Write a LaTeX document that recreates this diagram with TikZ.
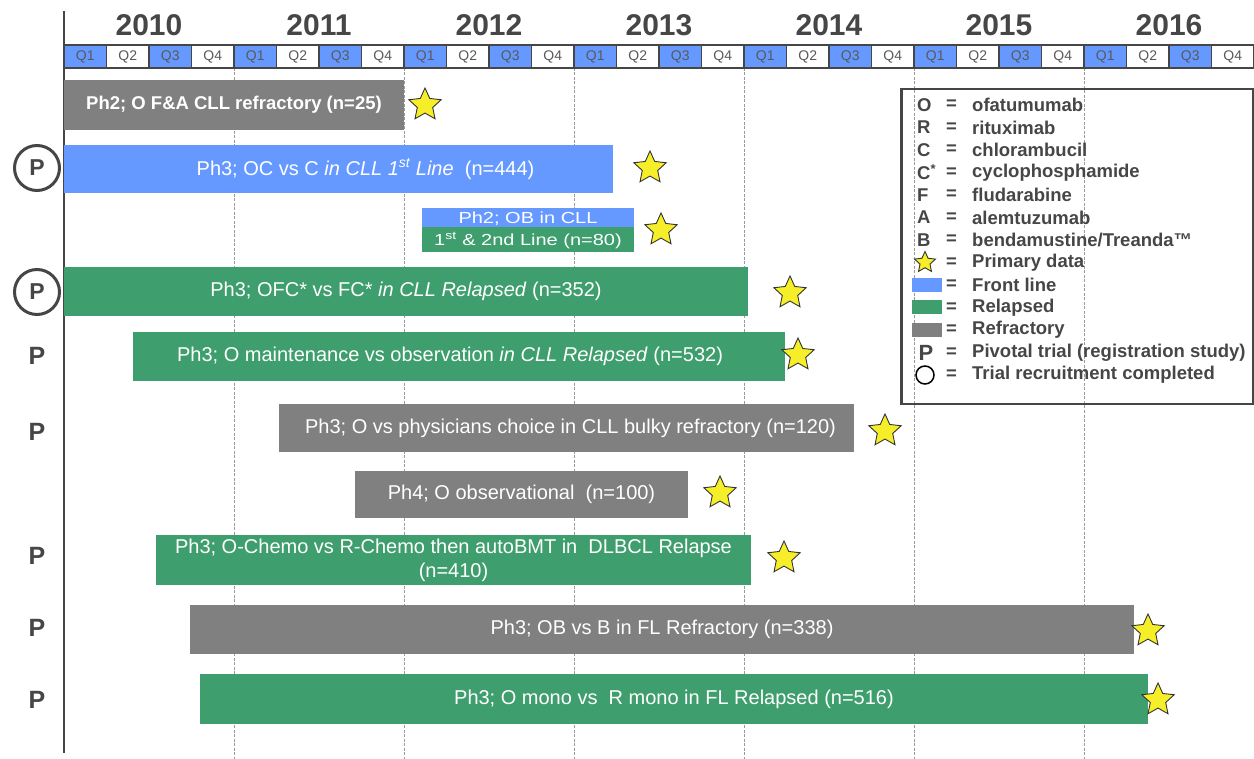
\documentclass[tikz,border=0pt]{standalone}
\usepackage{fontspec}
\usepackage{graphicx}
\setmainfont{Liberation Sans}
\usetikzlibrary{shapes.geometric}
\definecolor{qblue}{RGB}{102,153,255}
\definecolor{rgreen}{RGB}{62,158,110}
\definecolor{rgray}{RGB}{128,128,128}
\definecolor{dark}{RGB}{70,70,70}
\definecolor{ystar}{RGB}{246,238,40}
\begin{document}
\begin{tikzpicture}[x=1pt,y=-1pt,
  gridline/.style={draw=black!40, line width=0.9pt, dash pattern=on 3pt off 1.5pt},
  axisline/.style={draw=dark, line width=2pt},
  yearlabel/.style={font=\fontsize{30}{32}\selectfont\bfseries, text=dark},
  qbox/.style={minimum width=42.5pt, minimum height=23pt, inner sep=0pt, outer sep=0pt, draw=dark, line width=1.2pt, font=\fontsize{14}{14}\selectfont, text=black!65},
  barbase/.style={anchor=north west, inner sep=0pt, outer sep=0pt, text=white, font=\fontsize{20}{24}\selectfont, align=center},
  frontbar/.style={barbase, fill=qblue},
  relbar/.style={barbase, fill=rgreen},
  refbar/.style={barbase, fill=rgray},
  pstar/.style={star, star points=5, star point ratio=2.1, minimum size=34pt, inner sep=0pt, fill=ystar, draw=black!80, line width=0.9pt},
  pmark/.style={font=\fontsize{25}{25}\selectfont\bfseries, text=dark},
  pcirc/.style={circle, draw=dark, line width=3pt, minimum size=45pt, inner sep=0pt, font=\fontsize{23}{23}\selectfont\bfseries, text=dark},
  legbox/.style={draw=dark, line width=2.5pt, anchor=north west, minimum width=352pt, minimum height=315pt, inner sep=0pt},
  legtxt/.style={font=\fontsize{18.5}{20}\selectfont\bfseries, text=dark, inner sep=0pt, anchor=west},
  legsw/.style={minimum width=30pt, minimum height=14pt, inner sep=0pt}
]
\useasboundingbox (0,0) rectangle (1254,759);

% year grid lines
\foreach \i in {1,...,6}{
  \draw[gridline] ({64+170*\i},68) -- ({64+170*\i},759);
}
% time axis
\draw[axisline] (64,11) -- (64,753);

% years
\foreach \yr [count=\i from 0] in {2010,2011,2012,2013,2014,2015,2016}{
  \node[yearlabel] (y\yr) at ({64+170*\i+85},25) {\yr};
}
% quarters
\foreach \q in {0,...,27}{
  \pgfmathtruncatemacro{\qn}{mod(\q,4)+1}
  \ifodd\qn \def\qfill{qblue}\else\def\qfill{white}\fi
  \node[qbox, fill=\qfill] (q\q) at ({64+42.5*\q+21.25},56.5) {Q\qn};
}

% trial bars
\node[refbar, minimum width=340pt, minimum height=50pt, font=\fontsize{18.5}{22}\selectfont\bfseries] (b1) at (64,80) {Ph2; O F\&A CLL refractory (n=25)};
\node[frontbar, minimum width=549pt, minimum height=48pt] (b2) at (64,145) {\hspace*{54pt}Ph3; OC vs C \textit{in CLL 1\textsuperscript{st} Line}\ \ (n=444)};
\node[frontbar, minimum width=212pt, minimum height=19pt, text height=15pt, text depth=2pt] (b3a) at (422,208) {\scalebox{1}[0.8]{Ph2; OB in CLL}};
\node[relbar, minimum width=212pt, minimum height=25pt, text height=18pt, text depth=5pt] (b3b) at (422,227) {\scalebox{1}[0.8]{1\textsuperscript{st} \& 2nd Line (n=80)}};
\node[relbar, minimum width=684pt, minimum height=49pt] (b4) at (64,267) {Ph3; OFC* vs FC* \textit{in CLL Relapsed} (n=352)};
\node[relbar, minimum width=652pt, minimum height=49pt] (b5) at (133,332) {Ph3; O maintenance vs observation \textit{in CLL Relapsed} (n=532)\hspace*{18pt}};
\node[refbar, minimum width=575pt, minimum height=48pt] (b6) at (279,404) {\hspace*{8pt}Ph3; O vs physicians choice in CLL bulky refractory (n=120)};
\node[refbar, minimum width=333pt, minimum height=47pt] (b7) at (355,471) {Ph4; O observational\ \ (n=100)};
\node[relbar, minimum width=595pt, minimum height=50pt] (b8) at (156,535) {Ph3; O-Chemo vs R-Chemo then autoBMT in\ \ DLBCL Relapse\\(n=410)};
\node[refbar, minimum width=944pt, minimum height=49pt] (b9) at (190,605) {Ph3; OB vs B in FL Refractory (n=338)};
\node[relbar, minimum width=948pt, minimum height=50pt] (b10) at (200,674) {Ph3; O mono vs\ \ R mono in FL Relapsed (n=516)};

% primary data stars
\node[pstar] (s1) at (425,105) {};
\node[pstar] (s2) at (650,168) {};
\node[pstar] (s3) at (661,230) {};
\node[pstar] (s4) at (790,293) {};
\node[pstar] (s5) at (798,355) {};
\node[pstar] (s6) at (885,431) {};
\node[pstar] (s7) at (720,493) {};
\node[pstar] (s8) at (784,558) {};
\node[pstar] (s9) at (1148,631) {};
\node[pstar] (s10) at (1158,700) {};

% pivotal markers
\node[pcirc] (p2) at (37,168) {P};
\node[pcirc] (p4) at (37,292) {P};
\node[pmark] (p5) at (37,356) {P};
\node[pmark] (p6) at (37,432) {P};
\node[pmark] (p8) at (37,556) {P};
\node[pmark] (p9) at (37,628) {P};
\node[pmark] (p10) at (37,700) {P};

% legend
\node[legbox] (leg) at (900,88) {};
\foreach \sym/\txt [count=\k from 0] in {O/ofatumumab, R/rituximab, C/chlorambucil, C\textsuperscript{*}/cyclophosphamide, F/fludarabine, A/alemtuzumab, B/bendamustine\slash Treanda™}{
  \node[legtxt] (lk\k) at (917,{105+22.5*\k}) {\sym};
  \node[legtxt] (le\k) at (946,{105+22.5*\k}) {=};
  \node[legtxt] (lt\k) at (972,{105+22.5*\k}) {\txt};
}
\node[pstar, minimum size=22pt] (lk7) at (925,262.5) {};
\node[legsw, fill=qblue] (lk8) at (927,285) {};
\node[legsw, fill=rgreen] (lk9) at (927,307.5) {};
\node[legsw, fill=rgray] (lk10) at (927,330) {};
\node[pmark, font=\fontsize{22}{22}\selectfont\bfseries, inner sep=0pt] (lk11) at (926,352.5) {P};
\node[circle, draw=black, line width=1.5pt, minimum size=18pt, inner sep=0pt] (lk12) at (925,375) {};
\foreach \txt [count=\k from 7] in {Primary data, Front line, Relapsed, Refractory, Pivotal trial (registration study), Trial recruitment completed}{
  \node[legtxt] (le\k) at (946,{105+22.5*\k}) {=};
  \node[legtxt] (lt\k) at (972,{105+22.5*\k}) {\txt};
}
\end{tikzpicture}
\end{document}
